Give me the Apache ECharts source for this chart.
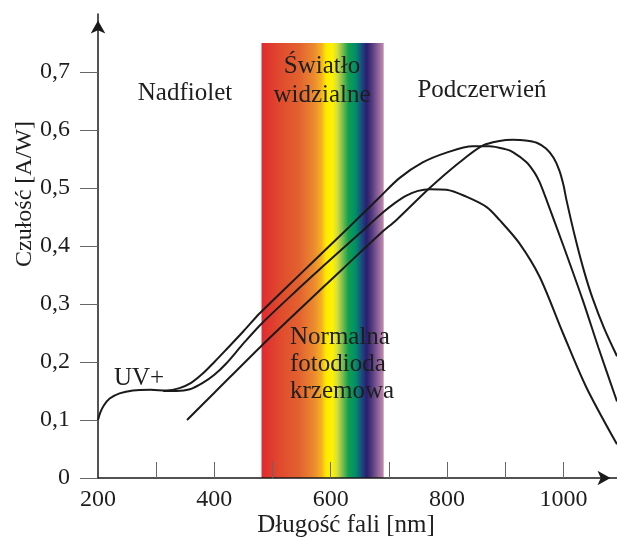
<!DOCTYPE html>
<html>
<head>
<meta charset="utf-8">
<title>Czułość fotodiody krzemowej</title>
<script src="https://cdn.jsdelivr.net/npm/echarts@6.0.0/dist/echarts.min.js"></script>
<style>
  html, body { margin: 0; padding: 0; background: #fff; }
  #chart { width: 617px; height: 539px; }
</style>
</head>
<body>
<div id="chart"></div>
<script>
// dane: [dlugosc fali nm, czulosc A/W]
const curveUV = [[200,0.100],[204,0.113],[210,0.125],[220,0.137],[237,0.146],[260,0.151],[290,0.152],[318,0.151],[340,0.155],[360,0.164],[380,0.180],[400,0.200],[420,0.221],[450,0.253],[478,0.284],[520,0.325],[575,0.378],[632,0.433],[684,0.484],[718,0.517],[758,0.544],[799,0.561],[844,0.572],[873,0.572],[900,0.567],[913,0.562],[936,0.545],[950,0.527],[959,0.510],[971,0.479],[1000,0.400],[1033,0.307],[1060,0.225],[1092,0.132]]
const curveMid = [[312,0.150],[335,0.150],[358,0.153],[380,0.164],[400,0.178],[420,0.197],[450,0.232],[481,0.266],[540,0.322],[600,0.377],[650,0.422],[690,0.458],[710,0.474],[730,0.487],[750,0.495],[770,0.498],[799,0.497],[833,0.485],[868,0.467],[890,0.445],[924,0.405],[959,0.347],[999,0.250],[1039,0.157],[1092,0.058]]
const curveIR = [[353,0.100],[400,0.147],[479,0.226],[550,0.294],[620,0.360],[686,0.422],[713,0.445],[770,0.500],[821,0.544],[861,0.573],[890,0.581],[913,0.583],[935,0.582],[954,0.578],[970,0.568],[983,0.552],[993,0.530],[1000,0.505],[1005,0.480],[1020,0.415],[1035,0.358],[1050,0.310],[1070,0.258],[1092,0.210]]

// zakres swiatla widzialnego
const visibleBand = [481, 691]
const visibleTop = 0.75

const xLabelValues = [200, 400, 600, 800, 1000]
const xTickValues = [300, 400, 500, 600, 700, 800, 900, 1000]
const yTickValues = [0, 0.1, 0.2, 0.3, 0.4, 0.5, 0.6, 0.7]

const FONT = '"Liberation Serif", "Times New Roman", serif'
const TXT = '#1e1e1e'

const chart = echarts.init(document.getElementById('chart'))

// kolory widma
const spectrum = new echarts.graphic.LinearGradient(0, 0, 1, 0, [
  { offset: 0.00, color: '#DF2A30' },
  { offset: 0.15, color: '#E04A2E' },
  { offset: 0.31, color: '#E2622F' },
  { offset: 0.43, color: '#EB8A30' },
  { offset: 0.49, color: '#F4B020' },
  { offset: 0.53, color: '#FFEA00' },
  { offset: 0.58, color: '#FFF200' },
  { offset: 0.62, color: '#D4DE3C' },
  { offset: 0.66, color: '#84C050' },
  { offset: 0.71, color: '#12A04E' },
  { offset: 0.77, color: '#008E6A' },
  { offset: 0.82, color: '#1B4C80' },
  { offset: 0.86, color: '#2A1E70' },
  { offset: 0.90, color: '#4F377A' },
  { offset: 0.95, color: '#8A609A' },
  { offset: 1.00, color: '#C28AAA' }
])

const lineStyle = { color: '#1a1a1a', width: 2 }

function label(text, x, y, align) {
  return {
    type: 'text', x: x, y: y, z: 10,
    style: { text: text, font: '25px ' + FONT, fill: TXT, align: align || 'center', verticalAlign: 'middle' }
  }
}

const option = {
  backgroundColor: '#fff',
  animation: false,
  grid: { left: 98, right: 0, top: 14, bottom: 61 },
  xAxis: {
    type: 'value',
    min: 200,
    max: 1092,
    z: 5,
    axisLine: {
      lineStyle: { color: '#1a1a1a', width: 1.5 },
      symbol: ['none', 'arrow'],
      symbolSize: [11, 13],
      symbolOffset: [0, -6.5]
    },
    axisTick: { inside: true, length: 16, customValues: xTickValues, lineStyle: { color: '#666', width: 1 } },
    axisLabel: {
      customValues: xLabelValues,
      margin: 10,
      fontSize: 24,
      fontFamily: FONT,
      color: TXT,
      formatter: (v) => String(v)
    },
    splitLine: { show: false }
  },
  yAxis: {
    type: 'value',
    min: 0,
    max: 0.8,
    z: 5,
    axisLine: {
      show: true,
      lineStyle: { color: '#1a1a1a', width: 1.5 },
      symbol: ['none', 'arrow'],
      symbolSize: [11, 13],
      symbolOffset: [0, -6.5]
    },
    axisTick: { show: true, length: 18, customValues: yTickValues, lineStyle: { color: '#666', width: 1 } },
    axisLabel: {
      customValues: yTickValues,
      margin: 28,
      fontSize: 24,
      fontFamily: FONT,
      color: TXT,
      formatter: (v) => v === 0 ? '0' : v.toFixed(1).replace('.', ',')
    },
    splitLine: { show: false }
  },
  series: [
    {
      type: 'line',
      data: curveUV,
      showSymbol: false,
      smooth: 0.3,
      lineStyle: lineStyle,
      z: 3,
      markArea: {
        silent: true,
        z: 1,
        itemStyle: { color: spectrum },
        data: [[{ xAxis: visibleBand[0], yAxis: 0 }, { xAxis: visibleBand[1], yAxis: visibleTop }]]
      }
    },
    { type: 'line', data: curveMid, showSymbol: false, smooth: 0.3, lineStyle: lineStyle, z: 3 },
    { type: 'line', data: curveIR, showSymbol: false, smooth: 0.3, lineStyle: lineStyle, z: 3 }
  ],
  graphic: [
    label('Nadfiolet', 185, 93),
    label('Światło', 322, 66),
    label('widzialne', 322, 95),
    label('Podczerwień', 482, 90),
    label('UV+', 139, 378),
    label('Normalna', 290, 337, 'left'),
    label('fotodioda', 290, 364, 'left'),
    label('krzemowa', 290, 391, 'left'),
    label('Długość fali [nm]', 346, 525),
    {
      type: 'text', x: 25, y: 194, rotation: Math.PI / 2, z: 10,
      style: { text: 'Czułość [A/W]', font: '24px ' + FONT, fill: TXT, align: 'center', verticalAlign: 'middle' }
    }
  ]
}

chart.setOption(option)
</script>
</body>
</html>
